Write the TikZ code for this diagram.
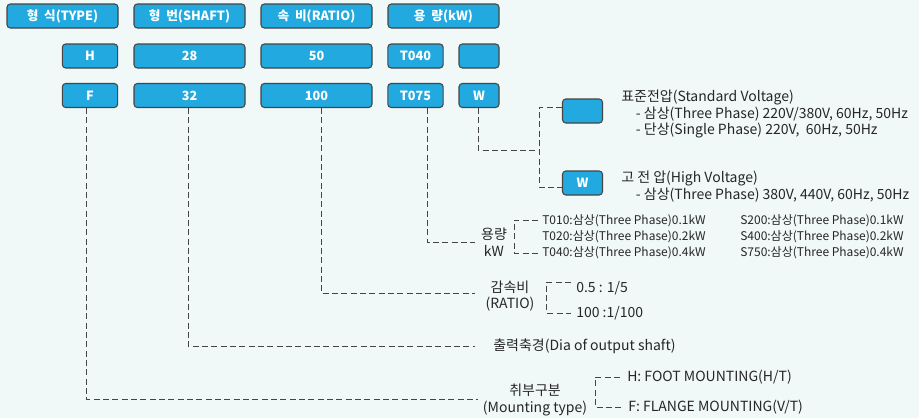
\documentclass[tikz,border=0pt]{standalone}
\usepackage{fontspec}
\setmainfont{Noto Sans CJK KR}
\usetikzlibrary{calc}
\definecolor{bgcol}{HTML}{F1F8F8}
\definecolor{boxcol}{HTML}{22A9DF}
\definecolor{linecol}{HTML}{454545}
\definecolor{txtcol}{HTML}{262626}
\tikzset{
  codebox/.style={draw=linecol, line width=0.8pt, fill=boxcol, rounded corners=2.5pt,
    text=white, font=\bfseries\fontsize{9.5}{11}\selectfont, minimum height=18pt, inner sep=0pt},
  wide/.style={minimum width=83.25pt},
  narrow/.style={minimum width=41.5pt},
  tiny/.style={minimum width=30pt},
  dashline/.style={draw=linecol, line width=0.6pt, dash pattern=on 4.5pt off 2.5pt},
  desc/.style={anchor=west, inner sep=0pt, align=left, text=txtcol,
    font=\fontsize{10.5}{12.4}\selectfont},
  pick/.style={inner sep=0pt, align=center, text=txtcol, font=\fontsize{10.5}{12.4}\selectfont},
  smalldesc/.style={anchor=west, inner sep=0pt, align=left, text=txtcol,
    font=\fontsize{9}{12.4}\selectfont}
}
\begin{document}
\begin{tikzpicture}[x=0.75pt,y=-0.75pt]
  \fill[bgcol] (0,0) rectangle (919,418);
  \useasboundingbox (0,0) rectangle (919,418);

  \node[codebox, wide] (type)  at (62.5,16)  {형\ \ 식(TYPE)};
  \node[codebox, wide] (shaft) at (189.5,16) {형\ \ 번(SHAFT)};
  \node[codebox, wide] (ratio) at (316.5,16) {속\ \ 비(RATIO)};
  \node[codebox, wide] (power) at (443.5,16) {용\ \ 량(kW)};

  \node[codebox, narrow] (h)    at (90,56)    {H};
  \node[codebox, wide]   (s28)  at (189.5,56) {28};
  \node[codebox, wide]   (r50)  at (316.5,56) {50};
  \node[codebox, narrow] (t040) at (415.5,56) {T040};
  \node[codebox, tiny]   (blank) at (479,56)  {};

  \node[codebox, narrow] (f)    at (90,95.5)    {F};
  \node[codebox, wide]   (s32)  at (189.5,95.5) {32};
  \node[codebox, wide]   (r100) at (316.5,95.5) {100};
  \node[codebox, narrow] (t075) at (415.5,95.5) {T075};
  \node[codebox, tiny]   (w)    at (479,95.5)   {W};

  % voltage
  \node[codebox, tiny] (stdbox) at (582.5,111) {};
  \node[codebox, tiny] (hvbox)  at (582.5,183) {W};
  \node[desc] (stdtxt) at (621,114) {표준전압(Standard Voltage)\\
    \hspace*{11pt}- 삼상(Three Phase) 220V/380V, 60Hz, 50Hz\\
    \hspace*{11pt}- 단상(Single Phase) 220V,\ \ 60Hz, 50Hz};
  \node[desc, anchor=north west] (hvtxt) at (621,171) {고 전 압(High Voltage)\\
    \hspace*{11pt}- 삼상(Three Phase) 380V, 440V, 60Hz, 50Hz};
  \coordinate (vjoin) at (539,150);
  \draw[dashline] ($(w.south)+(-1,0)$) |- (vjoin);
  \draw[dashline] ($(stdbox.west)+(0,-4)$) -| (vjoin) |- ($(hvbox.west)+(0,4)$);

  % capacity
  \node[pick] (kwlbl) at (494,242) {용량\\kW};
  \node[smalldesc] (t010) at (542,221) {T010:삼상(Three Phase)0.1kW};
  \node[smalldesc] (t020) at (542,237) {T020:삼상(Three Phase)0.2kW};
  \node[smalldesc] (t040b) at (542,253) {T040:삼상(Three Phase)0.4kW};
  \node[smalldesc] (s200) at (740,221) {S200:삼상(Three Phase)0.1kW};
  \node[smalldesc] (s400) at (740,237) {S400:삼상(Three Phase)0.2kW};
  \node[smalldesc] (s750) at (740,253) {S750:삼상(Three Phase)0.4kW};
  \draw[dashline] ($(t075.south)+(11.5,0)$) |- ($(kwlbl.west)+(-6,0)$);
  \draw[dashline] ($(t010.west)+(-4,-1)$) -| ($(kwlbl.east)+(7,0)$) |- ($(t040b.west)+(-4,0)$);

  % ratio
  \node[pick] (ratiolbl) at (510,296) {감속비\\(RATIO)};
  \node[desc] (rfive) at (576,288) {0.5 : 1/5};
  \node[desc] (rhund) at (576,313) {100 :1/100};
  \draw[dashline] ($(r100.south)+(4.5,0)$) |- ($(ratiolbl.west)+(-10,-3)$);
  \draw[dashline] ($(rfive.west)+(-5,-6)$) -| ($(ratiolbl.east)+(12,0)$) |- ($(rhund.west)+(-5,0)$);

  % shaft
  \node[desc] (shaftlbl) at (493,346) {출력축경(Dia of output shaft)};
  \draw[dashline] ($(s32.south)+(-1.5,0)$) |- ($(shaftlbl.west)+(-18,0)$);

  % mounting
  \node[pick] (mountlbl) at (535,400) {취부구분\\(Mounting type)};
  \node[desc] (foot)   at (627,377) {H: FOOT MOUNTING(H/T)};
  \node[desc] (flange) at (628,407) {F: FLANGE MOUNTING(V/T)};
  \draw[dashline] ($(f.south)+(-4,0)$) |- ($(mountlbl.west)+(-5,-1)$);
  \draw[dashline] ($(foot.west)+(-7,0)$) -| ($(mountlbl.east)+(8,0)$) |- ($(flange.west)+(-7,0)$);
\end{tikzpicture}
\end{document}
